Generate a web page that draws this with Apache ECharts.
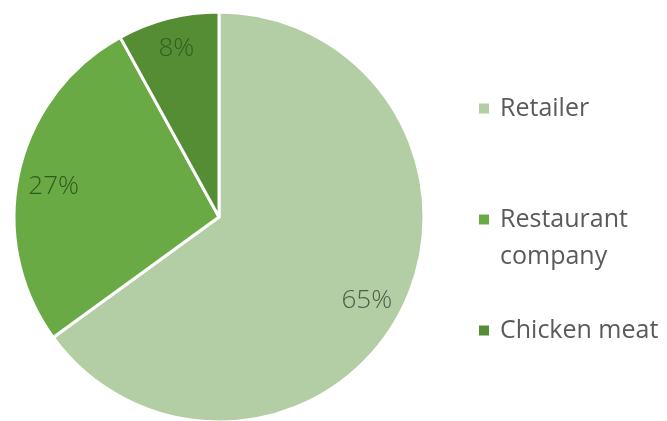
<!DOCTYPE html>
<html>
<head>
<meta charset="utf-8">
<script src="https://cdn.jsdelivr.net/npm/echarts@6/dist/echarts.min.js"></script>
<style>
  html, body { margin: 0; padding: 0; background: #ffffff; }
  #chart { width: 667px; height: 421px; }
</style>
</head>
<body>
<div id="chart"></div>
<script>
// Share of each buyer type
const categories = ['Retailer', 'Restaurant company', 'Chicken meat'];
const shares = [65, 27, 8];
const sliceColors = ['#b3cea5', '#6aaa45', '#558d35'];
const labelColors = ['#4c5e45', '#2e5a1c', '#32601e'];
// small nudges of the percentage labels
const labelNudges = [[-5, 6], [2, 7], [0, -2]];

const pieCenter = [219, 217];
const pieRadius = 205;
const textFont = '"Open Sans", "Noto Sans", sans-serif';

const slices = categories.map((name, i) => ({
  name: name,
  value: shares[i],
  itemStyle: { color: sliceColors[i] }
}));

const chart = echarts.init(document.getElementById('chart'), null, { renderer: 'canvas' });

chart.setOption({
  backgroundColor: '#ffffff',
  animation: false,
  legend: {
    orient: 'vertical',
    left: 477,
    top: 90,
    padding: 0,
    itemWidth: 12,
    itemHeight: 12,
    itemGap: 37,
    icon: 'rect',
    selectedMode: false,
    data: categories,
    formatter: function (name) {
      // two-line entry with a blank lead line so the marker sits beside the first line
      return name === 'Restaurant company' ? '\nRestaurant\ncompany' : name;
    },
    textStyle: {
      fontFamily: textFont,
      fontWeight: 400,
      fontSize: 25,
      lineHeight: 37,
      color: '#5a5a5a',
      padding: [0, 0, 0, 5]
    }
  },
  series: [
    {
      name: 'share',
      type: 'pie',
      center: pieCenter,
      radius: pieRadius,
      startAngle: 90,
      clockwise: true,
      silent: true,
      itemStyle: { borderColor: '#ffffff', borderWidth: 3 },
      label: { show: false },
      labelLine: { show: false },
      data: slices
    },
    {
      // transparent ring that only carries the percentage labels near the rim
      name: 'labels',
      type: 'pie',
      center: pieCenter,
      radius: [132, pieRadius],
      startAngle: 90,
      clockwise: true,
      silent: true,
      legendHoverLink: false,
      itemStyle: { color: 'rgba(0,0,0,0)', borderWidth: 0 },
      label: {
        show: true,
        position: 'inside',
        formatter: '{c}%',
        fontFamily: textFont,
        fontWeight: 300,
        fontSize: 26
      },
      labelLine: { show: false },
      data: categories.map((name, i) => ({
        name: name,
        value: shares[i],
        itemStyle: { color: 'rgba(0,0,0,0)' },
        label: { color: labelColors[i], offset: labelNudges[i] }
      }))
    }
  ]
});
</script>
</body>
</html>
